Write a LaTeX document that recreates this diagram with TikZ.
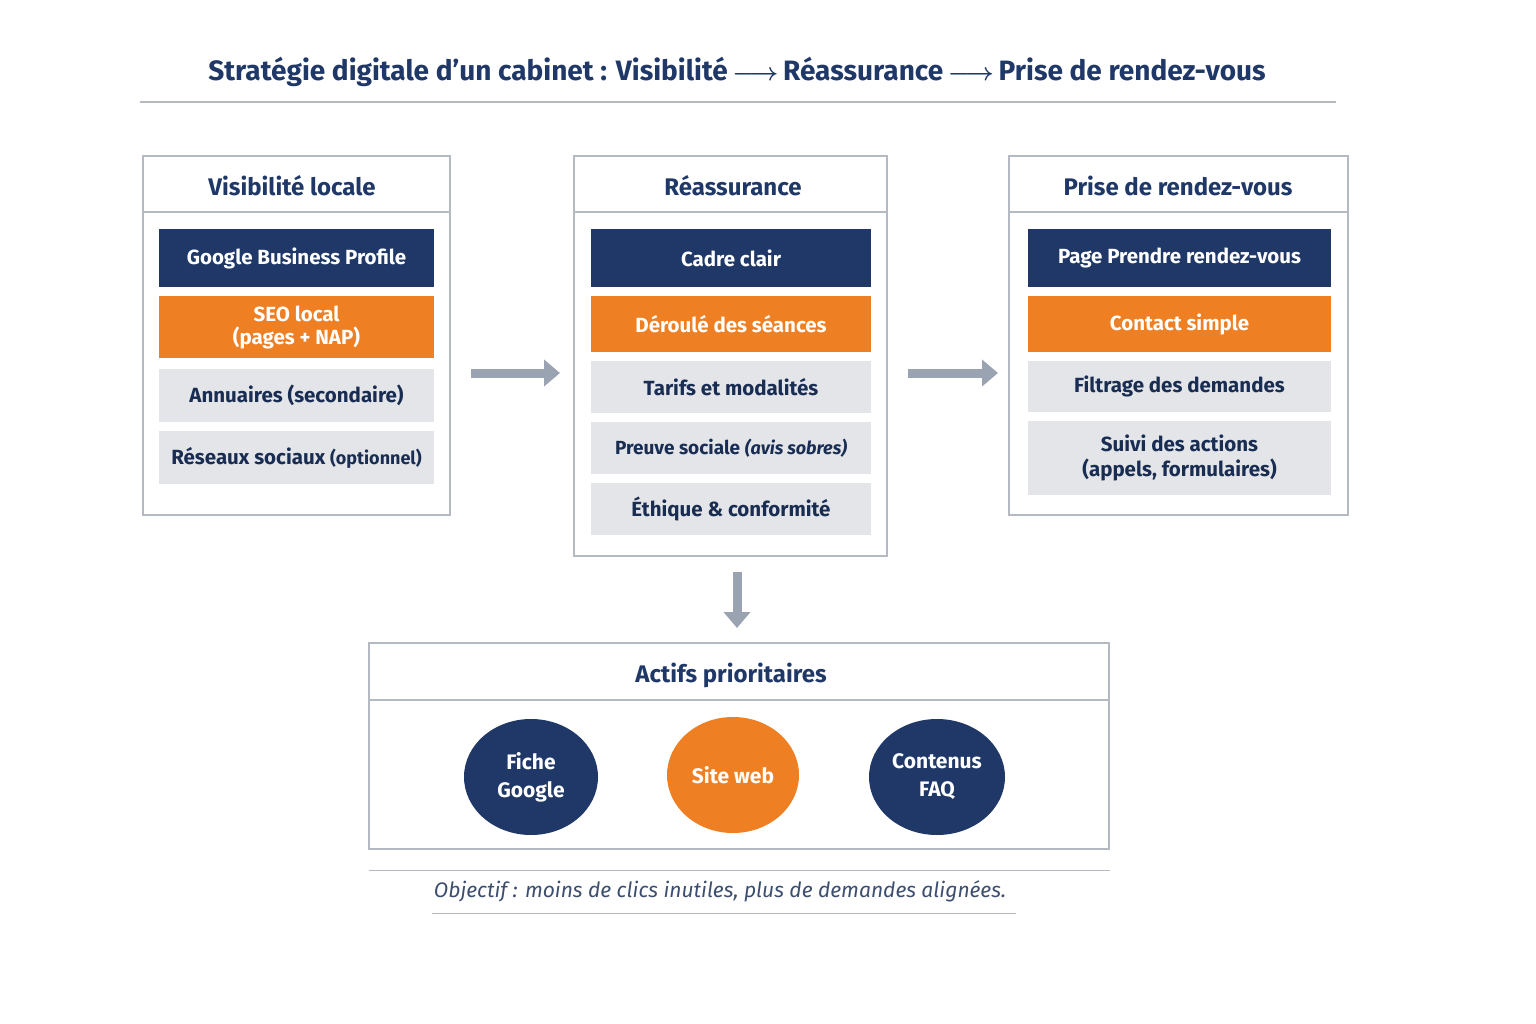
\documentclass[tikz,border=0pt]{standalone}
\usepackage{amsmath}
\usepackage{fontspec}
\setmainfont{Fira Sans}
\usetikzlibrary{arrows.meta,positioning,shapes.geometric}
\definecolor{navy}{HTML}{1F3867}
\definecolor{orangeA}{HTML}{EE7F22}
\definecolor{grisF}{HTML}{E3E5E9}
\definecolor{grisB}{HTML}{B4B9C2}
\definecolor{grisA}{HTML}{9AA3B2}
\tikzset{
  panneau/.style={draw=grisB, line width=1.3pt, fill=white},
  titre/.style={text=navy, font=\fontsize{24}{28}\selectfont\bfseries},
  bloc/.style={minimum height=#1, inner sep=0pt, align=center, font=\fontsize{20.5}{23}\selectfont\bfseries},
  bleu/.style={bloc=#1, fill=navy, text=white},
  orange/.style={bloc=#1, fill=orangeA, text=white},
  gris/.style={bloc=#1, fill=grisF, text=navy!80!black},
  fleche/.style={line width=9pt, draw=grisA, -{Triangle[length=16pt,width=26pt]}},
  rond/.style={ellipse, minimum width=#1, minimum height=116pt, inner sep=0pt, align=center,
    font=\fontsize{21}{26}\selectfont\bfseries, text=white}
}
\begin{document}
\begin{tikzpicture}[x=1pt,y=-1pt]
  \useasboundingbox[fill=white] (0,0) rectangle (1536,1024);

  % Titre
  \node[text=navy, font=\fontsize{28}{32}\selectfont\bfseries] (titre) at (737,72)
    {Stratégie digitale d’un cabinet : Visibilité\,$\boldsymbol{\longrightarrow}$\,Réassurance\,$\boldsymbol{\longrightarrow}$\,Prise de rendez-vous};
  \draw[grisB, line width=1.5pt] (140,102) -- (1336,102);

  % Panneau 1
  \draw[panneau] (143,156) rectangle (450,515);
  \draw[grisB, line width=1.3pt] (143,212) -- (450,212);
  \node[titre] (t1) at (292,186) {Visibilité locale};
  \node[bleu=58pt, minimum width=275pt] (gbp) at (296.5,258) {Google Business Profile};
  \node[orange=62pt, minimum width=275pt] (seo) at (296.5,327) {SEO local\\(pages + NAP)};
  \node[gris=53pt, minimum width=275pt] (ann) at (296.5,395.5) {Annuaires (secondaire)};
  \node[gris=53pt, minimum width=275pt] (res) at (296.5,457.5) {Réseaux sociaux {\fontsize{18}{22}\selectfont(optionnel)}};

  % Panneau 2
  \draw[panneau] (574,156) rectangle (887,556);
  \draw[grisB, line width=1.3pt] (574,212) -- (887,212);
  \node[titre] (t2) at (733,186) {Réassurance};
  \node[bleu=58pt, minimum width=280pt] (cad) at (731,258) {Cadre clair};
  \node[orange=56pt, minimum width=280pt] (der) at (731,324) {Déroulé des séances};
  \node[gris=52pt, minimum width=280pt] (tar) at (731,387) {Tarifs et modalités};
  \node[gris=52pt, minimum width=280pt] (pre) at (731,448) {{\fontsize{19}{22}\selectfont Preuve sociale} {\fontsize{18}{22}\selectfont\itshape(avis sobres)}};
  \node[gris=52pt, minimum width=280pt] (eth) at (731,509) {Éthique \& conformité};

  % Panneau 3
  \draw[panneau] (1009,156) rectangle (1348,515);
  \draw[grisB, line width=1.3pt] (1009,212) -- (1348,212);
  \node[titre] (t3) at (1178,186) {Prise de rendez-vous};
  \node[bleu=58pt, minimum width=303pt] (pag) at (1179.5,258) {Page Prendre rendez-vous};
  \node[orange=56pt, minimum width=303pt] (con) at (1179.5,324) {Contact simple};
  \node[gris=51pt, minimum width=303pt] (fil) at (1179.5,386.5) {Filtrage des demandes};
  \node[gris=74pt, minimum width=303pt] (sui) at (1179.5,458) {Suivi des actions\\[2pt](appels, formulaires)};

  % Flèches
  \coordinate (a1) at (471,373); \coordinate (b1) at (560,373);
  \coordinate (a2) at (908,373); \coordinate (b2) at (998,373);
  \coordinate (a3) at (737,572); \coordinate (b3) at (737,628);
  \draw[fleche] (a1) -- (b1);
  \draw[fleche] (a2) -- (b2);
  \draw[fleche] (a3) -- (b3);

  % Actifs prioritaires
  \draw[panneau] (369,643) rectangle (1109,849);
  \draw[grisB, line width=1.3pt] (369,700) -- (1109,700);
  \node[titre] (t4) at (731,675) {Actifs prioritaires};
  \node[rond=134pt, fill=navy] (fic) at (531,777) {Fiche\\[2pt]Google};
  \node[rond=132pt, fill=orangeA] (sit) at (733,775) {Site web};
  \node[rond=136pt, fill=navy] (cnt) at (937,777) {Contenus\\[2pt]FAQ};

  % Objectif
  \draw[grisB, line width=1pt] (369,870) -- (1110,870);
  \node[text=navy!70!gray, font=\fontsize{21}{24}\selectfont\itshape] (obj) at (720,891)
    {Objectif : moins de clics inutiles, plus de demandes alignées.};
  \draw[grisB, line width=1pt] (432,913) -- (1016,913);
\end{tikzpicture}
\end{document}
